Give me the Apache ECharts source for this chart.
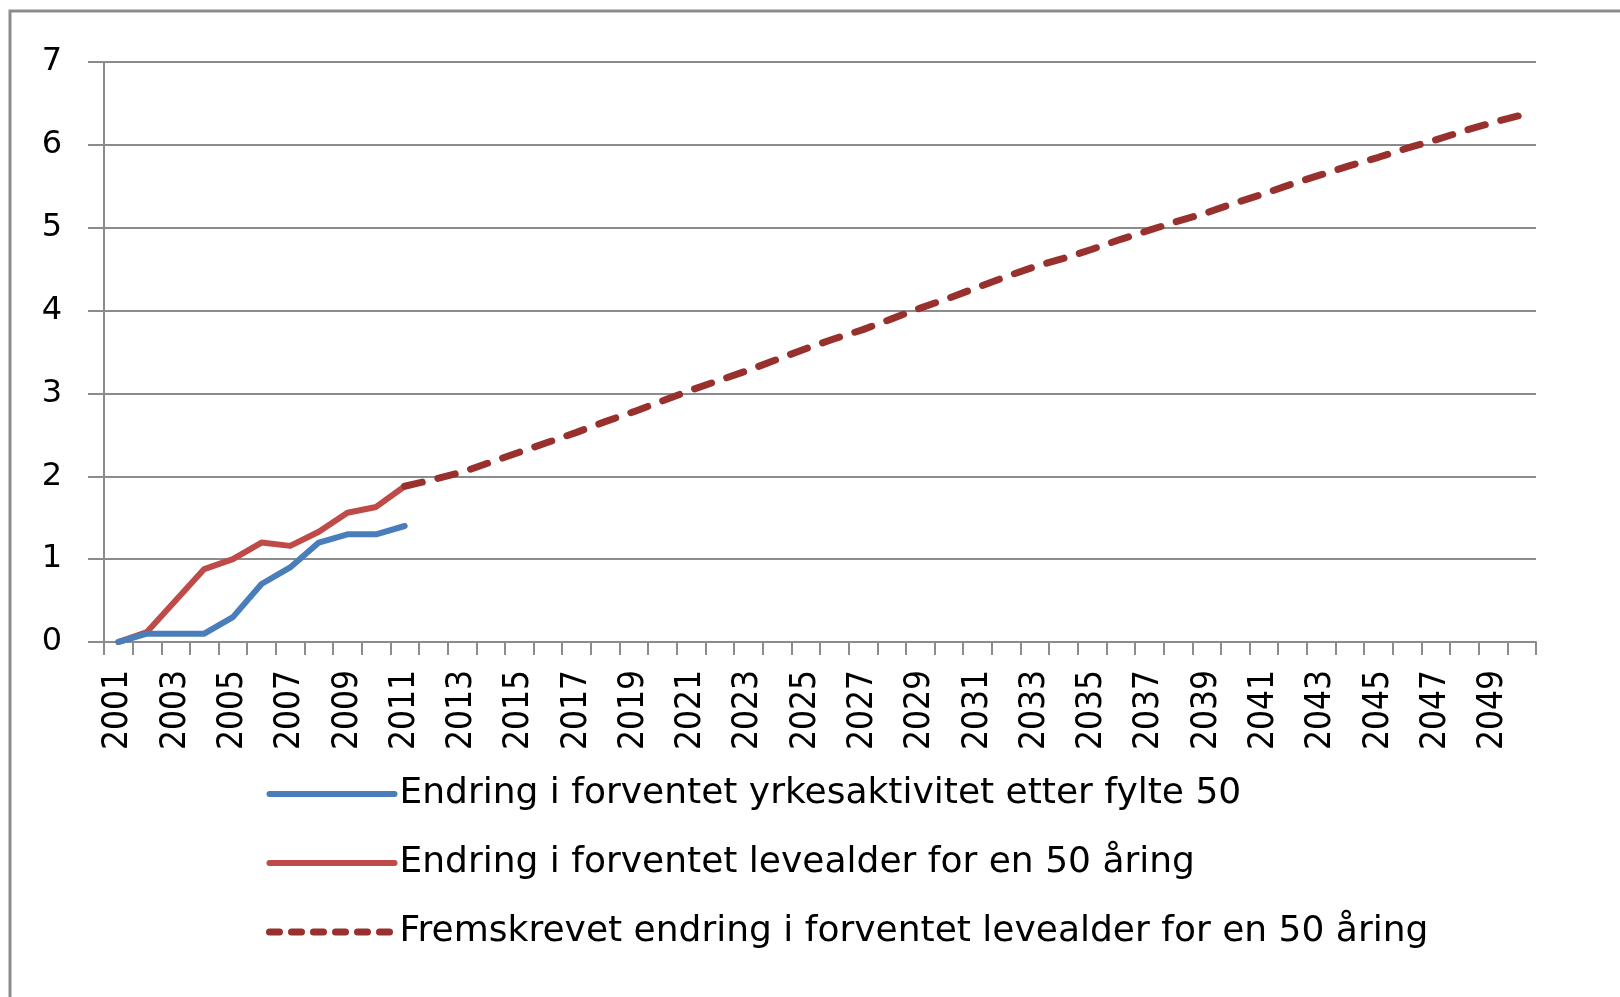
<!DOCTYPE html>
<html>
<head>
<meta charset="utf-8">
<script src="https://cdn.jsdelivr.net/npm/echarts@6/dist/echarts.min.js"></script>
<style>
  html, body { margin: 0; padding: 0; background: #fff; }
  #chart { width: 1620px; height: 997px; }
</style>
</head>
<body>
<div id="chart"></div>
<script>
// years 2001 - 2050
const years = ['2001','2002','2003','2004','2005','2006','2007','2008','2009','2010',
  '2011','2012','2013','2014','2015','2016','2017','2018','2019','2020',
  '2021','2022','2023','2024','2025','2026','2027','2028','2029','2030',
  '2031','2032','2033','2034','2035','2036','2037','2038','2039','2040',
  '2041','2042','2043','2044','2045','2046','2047','2048','2049','2050']

// observed 2001-2011
const yrkesaktivitet = [0, 0.1, 0.1, 0.1, 0.3, 0.7, 0.9, 1.2, 1.3, 1.3, 1.4]
const levealder = [0, 0.12, 0.5, 0.88, 1.0, 1.2, 1.16, 1.33, 1.56, 1.63, 1.88]
// projection 2011-2050
const fremskrevet = [1.88, 1.96, 2.05, 2.17, 2.29, 2.41, 2.53, 2.66, 2.78, 2.91,
  3.04, 3.16, 3.28, 3.41, 3.54, 3.66, 3.77, 3.90, 4.03, 4.15,
  4.28, 4.41, 4.53, 4.63, 4.74, 4.86, 4.97, 5.08, 5.18, 5.30,
  5.41, 5.53, 5.64, 5.75, 5.85, 5.96, 6.06, 6.17, 6.27, 6.36]

const names = [
  'Endring i forventet yrkesaktivitet etter fylte 50',
  'Endring i forventet levealder for en 50 åring',
  'Fremskrevet endring i forventet levealder for en 50 åring'
]
const colors = ['#4a7ebb', '#be4b48', '#98312e']

const pad = (arr, before) => {
  const out = []
  for (let i = 0; i < before; i++) out.push(null)
  return out.concat(arr)
}

const chart = echarts.init(document.getElementById('chart'))
chart.setOption({
  animation: false,
  backgroundColor: '#fff',
  graphic: [{
    type: 'polyline',
    shape: { points: [[10, 1000], [10, 11], [1625, 11]] },
    style: { stroke: '#8c8c8c', lineWidth: 3, fill: null },
    silent: true
  }],
  grid: {
    left: 104,
    right: 84,
    top: 62,
    height: 580
  },
  legend: {
    data: [
      { name: names[0], lineStyle: { width: 6, color: colors[0], cap: 'round' } },
      { name: names[1], lineStyle: { width: 6, color: colors[1], cap: 'round' } },
      { name: names[2], lineStyle: { width: 7, color: colors[2], type: [10, 12], cap: 'round' } }
    ],
    orient: 'vertical',
    left: 261,
    top: 771,
    itemWidth: 125,
    itemHeight: 14,
    itemGap: 33,
    itemStyle: { color: 'transparent', borderWidth: 0, opacity: 0 },
    textStyle: {
      fontFamily: 'DejaVu Sans',
      fontSize: 36,
      color: '#000'
    }
  },
  xAxis: {
    type: 'category',
    data: years,
    boundaryGap: true,
    axisLine: { lineStyle: { color: '#8c8c8c', width: 2 } },
    axisTick: {
      show: true,
      interval: 0,
      length: 13,
      lineStyle: { color: '#8c8c8c', width: 2 }
    },
    axisLabel: {
      interval: 1,
      rotate: 90,
      margin: 28,
      color: '#000',
      fontSize: 35,
      fontFamily: '"Liberation Sans Narrow", "DejaVu Sans Condensed", "Liberation Serif"'
    },
    splitLine: { show: false }
  },
  yAxis: {
    type: 'value',
    min: 0,
    max: 7,
    interval: 1,
    axisLine: { show: true, lineStyle: { color: '#8c8c8c', width: 2 } },
    axisTick: {
      show: true,
      length: 16,
      lineStyle: { color: '#8c8c8c', width: 2 }
    },
    axisLabel: {
      margin: 42,
      color: '#000',
      fontSize: 32,
      fontFamily: 'DejaVu Sans'
    },
    splitLine: { lineStyle: { color: '#8c8c8c', width: 2 } }
  },
  series: [
    {
      name: names[0],
      type: 'line',
      data: yrkesaktivitet,
      symbol: 'none',
      color: colors[0],
      lineStyle: { width: 6, color: colors[0], cap: 'round', join: 'round' },
      z: 3
    },
    {
      name: names[1],
      type: 'line',
      data: levealder,
      symbol: 'none',
      color: colors[1],
      lineStyle: { width: 6, color: colors[1], cap: 'round', join: 'round' },
      z: 2
    },
    {
      name: names[2],
      type: 'line',
      data: pad(fremskrevet, 10),
      symbol: 'none',
      color: colors[2],
      lineStyle: { width: 7, color: colors[2], type: [18, 16], cap: 'round', join: 'round' },
      z: 4
    }
  ]
})
</script>
</body>
</html>
